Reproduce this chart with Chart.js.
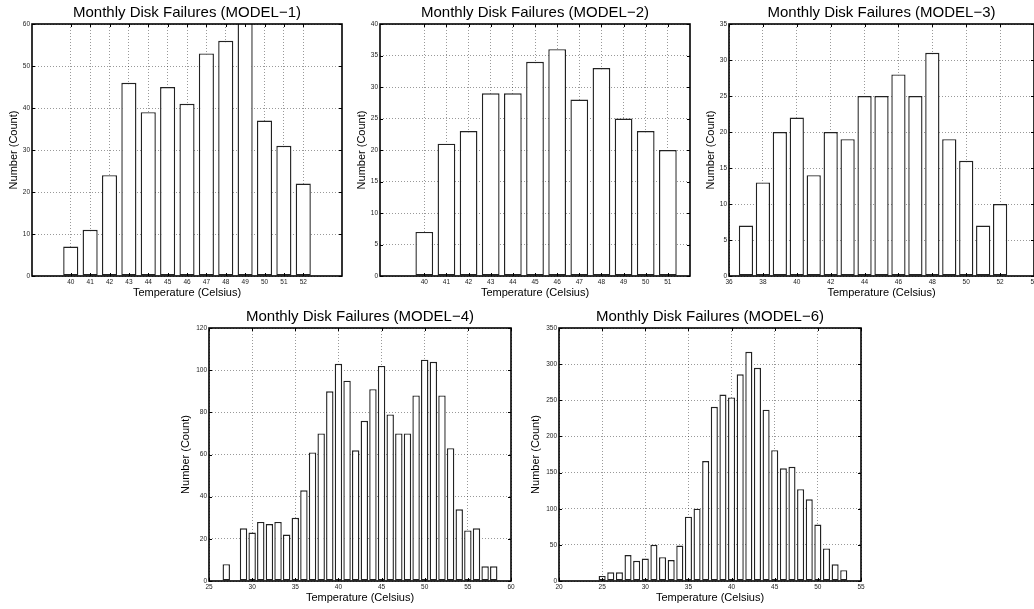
<!DOCTYPE html>
<html>
<head>
<meta charset="utf-8">
<script src="https://cdn.jsdelivr.net/npm/chart.js@4/dist/chart.umd.min.js"></script>
<style>
html, body { margin:0; padding:0; background:#fff; width:1034px; height:609px; overflow:hidden; position:relative; }
canvas { position:absolute; }
</style>
</head>
<body>
<canvas id="c1"></canvas>
<canvas id="c2"></canvas>
<canvas id="c3"></canvas>
<canvas id="c4"></canvas>
<canvas id="c6"></canvas>
<script>
// ---- data ----
const model1Temps  = [40,41,42,43,44,45,46,47,48,49,50,51,52];
const model1Counts = [7,11,24,46,39,45,41,53,56,64,37,31,22];   // 49 runs off the top
const model1XTicks = [40,41,42,43,44,45,46,47,48,49,50,51,52];
const model1YTicks = [0,10,20,30,40,50,60];

const model2Temps  = [40,41,42,43,44,45,46,47,48,49,50,51];
const model2Counts = [7,21,23,29,29,34,36,28,33,25,23,20];
const model2XTicks = [40,41,42,43,44,45,46,47,48,49,50,51];
const model2YTicks = [0,5,10,15,20,25,30,35,40];

const model3Temps  = [37,38,39,40,41,42,43,44,45,46,47,48,49,50,51,52];
const model3Counts = [7,13,20,22,14,20,19,25,25,28,25,31,19,16,7,10];
const model3XTicks = [36,38,40,42,44,46,48,50,52,54];
const model3YTicks = [0,5,10,15,20,25,30,35];

const model4Temps  = [27,29,30,31,32,33,34,35,36,37,38,39,40,41,42,43,44,45,46,47,48,49,50,51,52,53,54,55,56,57,58];
const model4Counts = [8,25,23,28,27,28,22,30,43,61,70,90,103,95,62,76,91,102,79,70,70,88,105,104,88,63,34,24,25,7,7];
const model4XTicks = [25,30,35,40,45,50,55,60];
const model4YTicks = [0,20,40,60,80,100,120];

const model6Temps  = [25,26,27,28,29,30,31,32,33,34,35,36,37,38,39,40,41,42,43,44,45,46,47,48,49,50,51,52,53];
const model6Counts = [7,12,12,36,28,31,50,33,29,49,89,100,166,241,258,254,286,317,295,237,181,156,158,127,113,78,45,23,15];
const model6XTicks = [20,25,30,35,40,45,50,55];
const model6YTicks = [0,50,100,150,200,250,300,350];

const FONT = "'Liberation Sans', Arial, Helvetica, sans-serif";
const Y_W = 34;   // space left of plot
const X_H = 28;   // space below plot

// frame + inward tick marks, matlab style
const framePlugin = {
    id: "frame",
    afterDatasetsDraw(chart) {
        const {ctx, chartArea: a, scales: {x, y}} = chart;
        ctx.save();
        ctx.strokeStyle = "#000";
        ctx.lineWidth = 1;
        ctx.beginPath();
        x.ticks.forEach(t => {
            const px = Math.round(x.getPixelForValue(t.value)) + 0.5;
            ctx.moveTo(px, a.bottom); ctx.lineTo(px, a.bottom - 3);
            ctx.moveTo(px, a.top); ctx.lineTo(px, a.top + 3);
        });
        y.ticks.forEach(t => {
            const py = Math.round(y.getPixelForValue(t.value)) + 0.5;
            ctx.moveTo(a.left, py); ctx.lineTo(a.left + 3, py);
            ctx.moveTo(a.right, py); ctx.lineTo(a.right - 3, py);
        });
        ctx.stroke();
        ctx.lineWidth = 1.6;
        ctx.strokeRect(a.left, a.top, a.right - a.left, a.bottom - a.top);
        ctx.restore();
    }
};

function makeChart(c) {
    const canvas = document.getElementById(c.id);
    const left = c.plotL - Y_W, top = c.titleY - 13;
    canvas.width = Y_W + (c.plotR - c.plotL) + 10;
    canvas.height = c.plotB + X_H - top;
    canvas.style.left = left + "px";
    canvas.style.top = top + "px";

    return new Chart(canvas, {
        type: "bar",
        data: {
            datasets: [{
                data: c.temps.map((t, i) => ({x: t, y: c.counts[i]})),
                backgroundColor: "#fff",
                borderColor: "#222",
                borderWidth: 1.4,
                borderSkipped: false,
                barPercentage: c.barPct,
                categoryPercentage: 1,
                clip: 0
            }]
        },
        options: {
            responsive: false,
            animation: false,
            layout: {padding: {left: 0, right: 10, top: 0, bottom: 0}},
            plugins: {
                legend: {display: false},
                tooltip: {enabled: false},
                title: {
                    display: true,
                    text: c.title,
                    fullSize: false,
                    color: "#000",
                    font: {family: FONT, size: 15, weight: "normal", lineHeight: 1.2},
                    padding: {top: 4, bottom: c.plotT - c.titleY - 9}
                }
            },
            scales: {
                x: {
                    type: "linear",
                    min: c.xMin, max: c.xMax,
                    offset: false,
                    grid: {offset: false, drawTicks: false, color: "rgba(0,0,0,0.4)", lineWidth: 1},
                    border: {display: false, dash: [1, 2]},
                    afterBuildTicks: s => { s.ticks = c.xTicks.map(v => ({value: v})); },
                    afterFit: s => { s.height = X_H; },
                    ticks: {autoSkip: false, maxRotation: 0, padding: 2, color: "#222",
                            font: {family: FONT, size: 6.5}},
                    title: {display: true, text: "Temperature (Celsius)", color: "#000",
                            font: {family: FONT, size: 11, lineHeight: 1.2}, padding: {top: 0, bottom: 4.4}}
                },
                y: {
                    min: 0, max: c.yTicks[c.yTicks.length - 1],
                    grid: {drawTicks: false, color: "rgba(0,0,0,0.4)", lineWidth: 1},
                    border: {display: false, dash: [1, 2]},
                    afterBuildTicks: s => { s.ticks = c.yTicks.map(v => ({value: v})); },
                    afterFit: s => { s.width = Y_W; },
                    ticks: {padding: 2, color: "#222", font: {family: FONT, size: 6.5}},
                    title: {display: true, text: "Number (Count)", color: "#000",
                            font: {family: FONT, size: 11, lineHeight: 1.2}, padding: {top: c.yTitlePad, bottom: 0}}
                }
            }
        },
        plugins: [framePlugin]
    });
}

makeChart({id: "c1", title: "Monthly Disk Failures (MODEL\u22121)", temps: model1Temps, counts: model1Counts,
    xTicks: model1XTicks, yTicks: model1YTicks, xMin: 38, xMax: 54, barPct: 0.78,
    plotL: 32, plotR: 342, plotT: 24, plotB: 276, titleY: 13, yTitlePad: 8.9});
makeChart({id: "c2", title: "Monthly Disk Failures (MODEL\u22122)", temps: model2Temps, counts: model2Counts,
    xTicks: model2XTicks, yTicks: model2YTicks, xMin: 38, xMax: 52, barPct: 0.8,
    plotL: 380, plotR: 690, plotT: 24, plotB: 276, titleY: 13, yTitlePad: 9.7});
makeChart({id: "c3", title: "Monthly Disk Failures (MODEL\u22123)", temps: model3Temps, counts: model3Counts,
    xTicks: model3XTicks, yTicks: model3YTicks, xMin: 36, xMax: 54, barPct: 0.84,
    plotL: 729, plotR: 1034, plotT: 24, plotB: 276, titleY: 13, yTitlePad: 9.1});
makeChart({id: "c4", title: "Monthly Disk Failures (MODEL\u22124)", temps: model4Temps, counts: model4Counts,
    xTicks: model4XTicks, yTicks: model4YTicks, xMin: 25, xMax: 60, barPct: 0.86,
    plotL: 209, plotR: 511, plotT: 328, plotB: 581, titleY: 317, yTitlePad: 4.4});
makeChart({id: "c6", title: "Monthly Disk Failures (MODEL\u22126)", temps: model6Temps, counts: model6Counts,
    xTicks: model6XTicks, yTicks: model6YTicks, xMin: 20, xMax: 55, barPct: 0.82,
    plotL: 559, plotR: 861, plotT: 328, plotB: 581, titleY: 317, yTitlePad: 4.4});
</script>
</body>
</html>
